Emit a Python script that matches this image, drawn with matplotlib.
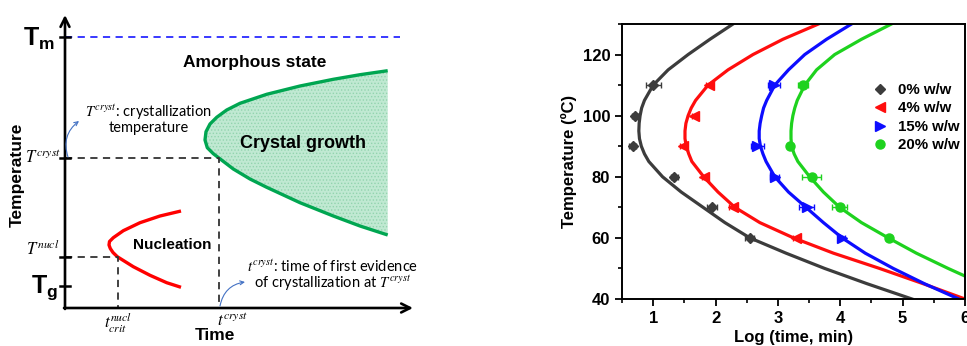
import matplotlib
matplotlib.use('Agg')
import matplotlib.pyplot as plt
from matplotlib.lines import Line2D
from matplotlib.ticker import MultipleLocator

plt.rcParams['font.family'] = 'Liberation Sans'
plt.rcParams['mathtext.fontset'] = 'custom'
plt.rcParams['mathtext.bf'] = 'Liberation Sans:bold'
plt.rcParams['mathtext.rm'] = 'Liberation Sans'
plt.rcParams['hatch.linewidth'] = 0.6

# ---- schematic (left): levels and times in drawing units ----
T_m, T_cryst, T_nucl, T_g = 271, 150, 51, 22
t_crit, t_cryst = 53, 154
t_end, T_top = 348, 293

# crystal growth boundary (time, temperature)
growth_t = [322.7, 295.0, 268.3, 235.0, 201.7, 175.0, 161.7, 151.7, 145.0, 141.0,
            140.0, 142.3, 148.3, 154.3, 168.3, 185.0, 201.7, 235.0, 268.3, 295.0, 322.7]
growth_T = [237.3, 233.3, 228.7, 222.0, 213.7, 204.7, 198.0, 190.7, 184.0, 176.3,
            168.0, 160.3, 154.3, 149.7, 139.0, 129.0, 120.7, 105.3, 92.0, 82.0, 73.0]

# nucleation boundary
nucl_t = [116.0, 95.0, 75.0, 58.3, 48.3, 44.5, 44.0, 45.3, 48.0, 52.3, 68.3, 85.0, 101.7, 116.0]
nucl_T = [97.0, 92.0, 85.3, 77.3, 70.3, 66.5, 63.0, 59.5, 55.5, 51.3, 41.3, 32.7, 25.3, 20.7]

# ---- kinetics data (right) ----
temp_0 = [110, 100, 90, 80, 70, 60]
logt_0 = [1.00, 0.71, 0.67, 1.34, 1.94, 2.55]
err_0 = [0.12, 0.05, 0.05, 0.05, 0.08, 0.07]

temp_4 = [110, 100, 90, 80, 70, 60]
logt_4 = [1.90, 1.66, 1.48, 1.82, 2.28, 3.29]
err_4 = [0.06, 0.04, 0.05, 0.04, 0.06, 0.05]

temp_15 = [110, 90, 80, 70, 60]
logt_15 = [2.94, 2.67, 2.95, 3.46, 4.02]
err_15 = [0.10, 0.10, 0.07, 0.12, 0.05]

temp_20 = [110, 90, 80, 70, 60]
logt_20 = [3.41, 3.20, 3.54, 3.99, 4.78]
err_20 = [0.08, 0.03, 0.15, 0.12, 0.05]

# fitted TTT curves
fit_T = [130, 125, 120, 115, 110, 105, 102.5, 100, 97.5, 95, 92.5, 90, 87.5, 85, 80, 75,
         70, 65, 60, 55, 50, 45, 40]
fit_0 = [2.28, 1.91, 1.56, 1.24, 1.00, 0.86, 0.815, 0.79, 0.775, 0.77, 0.78, 0.81, 0.86,
         0.93, 1.15, 1.45, 1.80, 2.15, 2.55, 3.13, 3.75, 4.43, 5.15]
fit_4 = [3.65, 3.08, 2.60, 2.20, 1.88, 1.68, 1.61, 1.56, 1.525, 1.51, 1.51, 1.53, 1.57,
         1.62, 1.81, 2.04, 2.31, 2.71, 3.25, 3.89, 4.63, 5.33, 6.00]
fit_15 = [4.18, 3.78, 3.43, 3.17, 2.95, 2.82, 2.77, 2.74, 2.715, 2.70, 2.70, 2.72, 2.76,
          2.81, 2.95, 3.17, 3.45, 3.73, 4.03, 4.40, 4.85, 5.35, 5.90]
fit_T20 = [130, 125, 120, 115, 110, 105, 102.5, 100, 97.5, 95, 92.5, 90, 87.5, 85, 80, 75,
           70, 65, 60, 55, 50, 47.5]
fit_20 = [4.82, 4.34, 3.91, 3.62, 3.43, 3.31, 3.27, 3.24, 3.22, 3.21, 3.21, 3.22, 3.26,
          3.32, 3.51, 3.73, 3.99, 4.34, 4.77, 5.22, 5.73, 6.00]

labels = ['0% w/w', '4% w/w', '15% w/w', '20% w/w']
colors = ['#3c3c3c', '#ff0d0d', '#0d0dff', '#1ed21e']
markers = ['D', '<', '>', 'o']

fig = plt.figure(figsize=(9.67, 3.46), dpi=100)

# ================= schematic =================
ax = fig.add_axes([0, 0, 430 / 967, 1])
ax.set_xlim(-65, 365)
ax.set_ylim(-38, 308)
ax.axis('off')

ax.fill(growth_t, growth_T, facecolor='#c0e9d2', edgecolor='#93d4af', hatch='.....',
        lw=0, zorder=1)
ax.plot(growth_t, growth_T, color='#00a651', lw=2.4, solid_capstyle='butt', zorder=2)
ax.plot(nucl_t, nucl_T, color='#ff0000', lw=2.4, solid_capstyle='butt', zorder=2)

ax.plot([0, 335], [T_m, T_m], color='#2a2aff', lw=1.3, ls=(0, (4, 3)))
ax.plot([0, t_cryst, t_cryst], [T_cryst, T_cryst, 0], color='#333333', lw=1.3, ls=(0, (4, 3)))
ax.plot([0, t_crit, t_crit], [T_nucl, T_nucl, 0], color='#333333', lw=1.3, ls=(0, (4, 3)))

arrow = dict(arrowstyle='->', lw=1.9, color='black', mutation_scale=16, shrinkA=0, shrinkB=0)
ax.annotate('', xy=(t_end, 0), xytext=(-1, 0), arrowprops=arrow)
ax.annotate('', xy=(0, T_top), xytext=(0, -1), arrowprops=arrow)
for lev in [T_m, T_cryst, T_nucl, T_g]:
    ax.plot([-5, 5], [lev, lev], color='black', lw=1.8)

ax.text(-10, T_m - 2, r'$\mathbf{T_m}$', fontsize=18, ha='right', va='center')
ax.text(-7, T_g - 2, r'$\mathbf{T_g}$', fontsize=18, ha='right', va='center')
ax.text(-4, T_cryst - 5, r'$T^{cryst}$', fontsize=12, ha='right', va='baseline',
        math_fontfamily='stix')
ax.text(-6, T_nucl + 2, r'$T^{nucl}$', fontsize=12, ha='right', va='baseline',
        math_fontfamily='stix')
ax.text(t_crit, -3, r'$t^{nucl}_{crit}$', fontsize=12, ha='center', va='top',
        math_fontfamily='stix')
ax.text(t_cryst - 2, -4, r'$t^{cryst}$', fontsize=12, ha='left', va='top',
        math_fontfamily='stix')

ax.text(-48, 133, 'Temperature', fontsize=12.5, fontweight='bold', rotation=90,
        ha='center', va='center')
ax.text(150, -27, 'Time', fontsize=12.5, fontweight='bold', ha='center', va='center')
ax.text(190, 245, 'Amorphous state', fontsize=12.5, fontweight='bold', ha='center', va='center')
ax.text(238, 165, 'Crystal growth', fontsize=13, fontweight='bold', ha='center', va='center')
ax.text(107, 63, 'Nucleation', fontsize=11, fontweight='bold', ha='center', va='center')

ax.text(20, 191, r'$T^{cryst}$: crystallization', fontsize=10.5, family='Lato',
        math_fontfamily='stix', ha='left', va='baseline')
ax.text(84, 176, 'temperature', fontsize=10.5, family='Lato', ha='center', va='baseline')
ax.text(182, 36, r'$t^{cryst}$: time of first evidence', fontsize=10.5, family='Lato',
        math_fontfamily='stix', ha='left', va='baseline')
ax.text(189, 20, r'of crystallization at $T^{cryst}$', fontsize=10.5, family='Lato',
        math_fontfamily='stix', ha='left', va='baseline')

blue_arrow = dict(arrowstyle='->', lw=0.8, color='#4472c4', mutation_scale=7,
                  shrinkA=0, shrinkB=0, connectionstyle='arc3,rad=-0.35')
ax.annotate('', xy=(14, 187), xytext=(3, 151), arrowprops=blue_arrow)
ax.annotate('', xy=(180, 26), xytext=(155, 2), arrowprops=blue_arrow)

# ================= TTT data =================
ax2 = fig.add_axes([622 / 967, 47 / 346, 343 / 967, 275 / 346])
series = [(temp_0, logt_0, err_0, fit_T, fit_0),
          (temp_4, logt_4, err_4, fit_T, fit_4),
          (temp_15, logt_15, err_15, fit_T, fit_15),
          (temp_20, logt_20, err_20, fit_T20, fit_20)]
handles = []
for (tt, lt, er, ft, fx), c, m, lab in zip(series, colors, markers, labels):
    ax2.plot(fx, ft, color=c, lw=2.3, zorder=2)
    ax2.errorbar(lt, tt, xerr=er, fmt=m, color=c, ms=6.5 if m != 'D' else 5.5,
                 elinewidth=1, capsize=2.5, capthick=1, zorder=3)
    handles.append(Line2D([], [], ls='none', marker=m, color=c,
                          markersize=6.5 if m != 'D' else 5.5, label=lab))

ax2.set_xlim(0.5, 6)
ax2.set_ylim(40, 130)
ax2.xaxis.set_major_locator(MultipleLocator(1))
ax2.xaxis.set_minor_locator(MultipleLocator(0.5))
ax2.yaxis.set_major_locator(MultipleLocator(20))
ax2.yaxis.set_minor_locator(MultipleLocator(10))
ax2.tick_params(which='major', direction='out', length=5, width=1.3, labelsize=12)
ax2.tick_params(which='minor', direction='out', length=3, width=1.2)
for lbl in ax2.get_xticklabels() + ax2.get_yticklabels():
    lbl.set_fontweight('bold')
for sp in ax2.spines.values():
    sp.set_linewidth(1.4)
ax2.set_xlabel('Log (time, min)', fontsize=12, fontweight='bold', labelpad=3)
ax2.set_ylabel('Temperature (ºC)', fontsize=12, fontweight='bold', labelpad=4)

leg = ax2.legend(handles=handles, loc='upper left', bbox_to_anchor=(0.712, 0.808),
                 frameon=False, handlelength=1.0, handletextpad=0.75, labelspacing=0.3,
                 borderaxespad=0, prop={'weight': 'bold', 'size': 10.8})

fig.savefig('out.png', dpi=100)
